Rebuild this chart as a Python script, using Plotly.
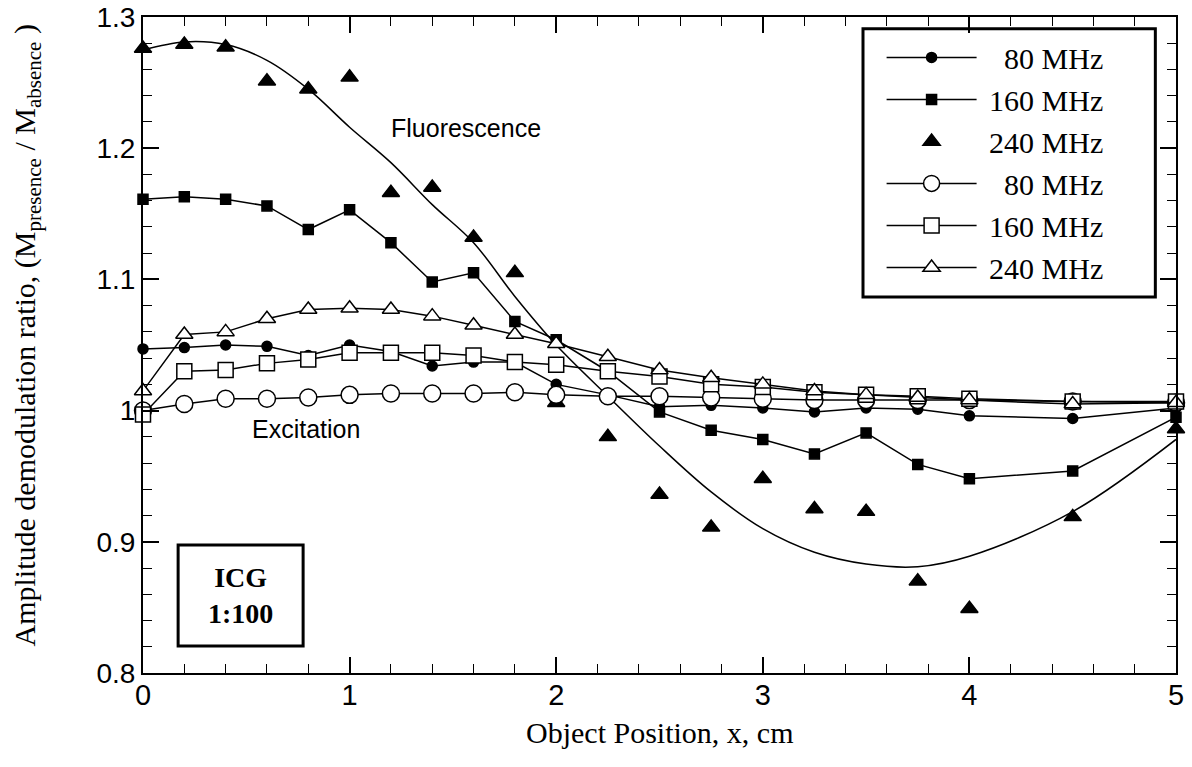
import plotly.graph_objects as go

# Object positions (cm)
x_pos = [0, 0.2, 0.4, 0.6, 0.8, 1.0, 1.2, 1.4, 1.6, 1.8, 2.0,
         2.25, 2.5, 2.75, 3.0, 3.25, 3.5, 3.75, 4.0, 4.5, 5.0]

# Fluorescence amplitude demodulation ratios
fluor_80 = [1.047, 1.048, 1.050, 1.049, 1.042, 1.050, 1.045, 1.034, 1.037, 1.037, 1.020,
            1.012, 1.003, 1.004, 1.002, 0.999, 1.002, 1.001, 0.996, 0.994, 1.002]
fluor_160 = [1.161, 1.163, 1.161, 1.156, 1.138, 1.153, 1.128, 1.098, 1.105, 1.068, 1.054,
             1.030, 0.999, 0.985, 0.978, 0.967, 0.983, 0.959, 0.948, 0.954, 0.995]
fluor_240 = [1.276, 1.279, 1.277, 1.251, 1.245, 1.254, 1.166, 1.170, 1.132, 1.105, 1.006,
             0.980, 0.936, 0.911, 0.948, 0.925, 0.923, 0.870, 0.849, 0.919, 0.986]

# Smooth curve through the 240 MHz fluorescence data
fit_240 = [1.275, 1.281, 1.279, 1.267, 1.245, 1.216, 1.189, 1.157, 1.128, 1.087, 1.050,
           1.011, 0.973, 0.938, 0.910, 0.892, 0.883, 0.881, 0.889, 0.923, 0.978]

# Excitation amplitude demodulation ratios
exc_80 = [1.000, 1.005, 1.009, 1.009, 1.010, 1.012, 1.013, 1.013, 1.013, 1.014, 1.012,
          1.011, 1.011, 1.010, 1.009, 1.008, 1.008, 1.008, 1.008, 1.007, 1.006]
exc_160 = [0.997, 1.030, 1.031, 1.036, 1.039, 1.044, 1.044, 1.044, 1.042, 1.037, 1.035,
           1.030, 1.026, 1.020, 1.018, 1.014, 1.012, 1.011, 1.009, 1.007, 1.007]
exc_240 = [1.015, 1.058, 1.060, 1.070, 1.077, 1.078, 1.077, 1.072, 1.065, 1.058, 1.051,
           1.041, 1.031, 1.025, 1.020, 1.015, 1.012, 1.010, 1.008, 1.005, 1.006]

labels = ["80 MHz", "160 MHz", "240 MHz", "80 MHz", "160 MHz", "240 MHz"]

SERIF = "Liberation Serif, Times New Roman, serif"
SANS = "Liberation Sans, Arial, sans-serif"
NARROW = "Liberation Sans Narrow, Arial Narrow, Liberation Sans, sans-serif"

NB = "\u00a0"


def legend_text(label):
    # pad two-digit frequencies so the labels line up on the right
    pad = NB * 3 if len(label.split()[0]) == 2 else NB
    return pad + label


fig = go.Figure()

fig.add_trace(go.Scatter(
    x=x_pos, y=fit_240, mode="lines", line=dict(color="black", width=1.5, shape="spline"),
    showlegend=False, hoverinfo="skip", cliponaxis=False))

series = [
    (fluor_80, "circle", 10, "black", labels[0], "lines+markers"),
    (fluor_160, "square", 10, "black", labels[1], "lines+markers"),
    (fluor_240, "triangle-up", 15, "black", labels[2], "markers"),
    (exc_80, "circle", 17, "white", labels[3], "lines+markers"),
    (exc_160, "square", 15, "white", labels[4], "lines+markers"),
    (exc_240, "triangle-up", 15, "white", labels[5], "lines+markers"),
]

for i, (vals, sym, size, fill, name, mode) in enumerate(series):
    fig.add_trace(go.Scatter(
        x=x_pos, y=vals, mode=mode, name=legend_text(name), legendgroup=f"g{i}",
        line=dict(color="black", width=1.5),
        marker=dict(symbol=sym, size=size, color=fill,
                    line=dict(color="black", width=1.5)),
        cliponaxis=False))

axis_common = dict(
    showgrid=False, zeroline=False, showline=True, linecolor="black", linewidth=2,
    mirror="allticks", ticks="inside", ticklen=16, tickwidth=1.5, tickcolor="black",
    automargin=False,
)

fig.update_xaxes(
    range=[0, 5], tick0=0, dtick=1, **axis_common,
    tickfont=dict(family=NARROW, size=29, color="black"),
    ticklabelstandoff=-5,
    minor=dict(dtick=0.2, ticks="inside", ticklen=9, tickwidth=1.2, tickcolor="black"),
)
fig.update_yaxes(
    range=[0.8, 1.3], tick0=0.8, dtick=0.1, **axis_common,
    tickfont=dict(family=SANS, size=28, color="black"),
    minor=dict(dtick=0.02, ticks="inside", ticklen=9, tickwidth=1.2, tickcolor="black"),
)

# Legend frame and sample label box
fig.add_shape(type="rect", xref="paper", yref="paper", x0=0.697, x1=0.980, y0=0.573, y1=0.982,
              line=dict(color="black", width=3), fillcolor="white", layer="below")
fig.add_shape(type="rect", xref="paper", yref="paper", x0=0.034, x1=0.155, y0=0.041, y1=0.195,
              line=dict(color="black", width=3), fillcolor="rgba(0,0,0,0)")

fig.add_annotation(x=0.0945, y=0.118, xref="paper", yref="paper", showarrow=False,
                   xanchor="center", yanchor="middle",
                   text="<b>ICG</b><br><b>1:100</b>", font=dict(family=SERIF, size=28, color="black"))
fig.add_annotation(x=1.565, y=1.2155, text="Fluorescence", showarrow=False,
                   xanchor="center", yanchor="middle",
                   font=dict(family=SANS, size=25, color="black"))
fig.add_annotation(x=0.789, y=0.986, text="Excitation", showarrow=False,
                   xanchor="center", yanchor="middle",
                   font=dict(family=SANS, size=25, color="black"))

# Axis titles
fig.add_annotation(x=0.5, y=-0.09, xref="paper", yref="paper", showarrow=False,
                   xanchor="center", yanchor="middle",
                   text="Object Position, x, cm", font=dict(family=SERIF, size=30, color="black"))
fig.add_annotation(x=-0.112, y=0.515, xref="paper", yref="paper", showarrow=False, textangle=-90,
                   xanchor="center", yanchor="middle",
                   text="Amplitude demodulation ratio, (M<sub>presence</sub> / M<sub>absence</sub> )",
                   font=dict(family=SERIF, size=30, color="black"))

fig.update_layout(
    width=1192, height=767,
    margin=dict(l=143, r=16, t=17, b=94),
    paper_bgcolor="white", plot_bgcolor="white",
    showlegend=True,
    legend=dict(x=0.715, y=0.978, xanchor="left", yanchor="top",
                bgcolor="rgba(0,0,0,0)", borderwidth=0,
                font=dict(family=SERIF, size=30, color="black"),
                itemwidth=90, tracegroupgap=0, traceorder="grouped"),
)

fig.write_html("out.html")
